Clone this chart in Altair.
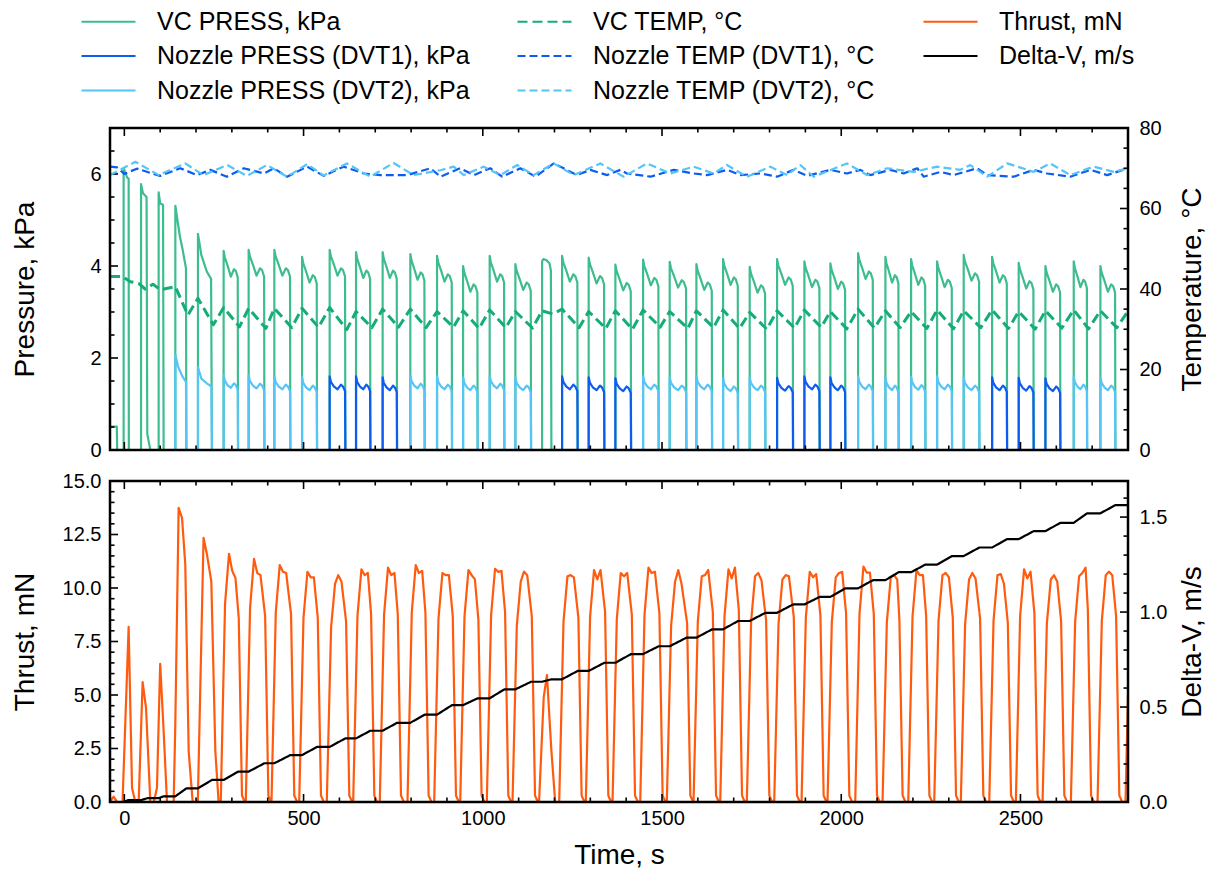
import altair as alt
import pandas as pd

FONT = "Liberation Sans"
W, H1, H2 = 1018, 322, 321
X_DOMAIN = [-40, 2800]

S_VC = "VC PRESS, kPa"
S_N1 = "Nozzle PRESS (DVT1), kPa"
S_N2 = "Nozzle PRESS (DVT2), kPa"
S_VCT = "VC TEMP, °C"
S_NT1 = "Nozzle TEMP (DVT1), °C"
S_NT2 = "Nozzle TEMP (DVT2), °C"
S_TH = "Thrust, mN"
S_DV = "Delta-V, m/s"

legend_order = [S_VC, S_N1, S_N2, S_VCT, S_NT1, S_NT2, S_TH, S_DV]
legend_colors = ["#3dbd8d", "#0c5cf0", "#55c4f7", "#14ad78", "#0c5cf0", "#55c4f7", "#ff5a0d", "#000000"]
legend_dash = [[1, 0], [1, 0], [1, 0], [10, 5], [8, 4], [8, 4], [1, 0], [1, 0]]

# ---------------- pulse table ----------------
pulse_t0 = [-2, 46.6, 95.7, 142.3, 205.4, 277.0, 346.8, 418.5, 495.8, 572.8,
            646.4, 720.6, 797.9, 872.4, 945.0, 1019.2, 1090.9, 1165.4, 1221.2, 1295.4,
            1369.9, 1447.2, 1521.4, 1595.9, 1670.4, 1744.6, 1821.0, 1897.2, 1969.7, 2047.0,
            2123.2, 2194.9, 2267.4, 2341.6, 2420.9, 2495.1, 2569.6, 2648.6, 2723.0, 2801.0]
pulse_dur = [13, 18, 14, 31, 39, 40.2, 44, 44.6, 41.8, 43.8,
             40, 40.2, 40, 41.8, 40.7, 41, 43.8, 26, 43.5, 43.8,
             43.8, 43.5, 46.6, 43.8, 41.8, 43.8, 44.6, 42.7, 41.8, 41.8,
             37, 40, 41.8, 43.8, 41.8, 41.8, 41.8, 37.4, 41.8, 42]
vc_peak = [6.13, 5.78, 5.6, 5.31, 4.7, 4.33, 4.35, 4.35, 4.2, 4.35,
           4.3, 4.3, 4.26, 4.22, 4.0, 4.22, 4.04, 4.15, 4.22, 4.18,
           4.03, 4.14, 4.09, 4.04, 4.15, 3.98, 4.15, 4.1, 4.06, 4.28,
           4.2, 4.15, 4.1, 4.24, 4.2, 4.07, 4.0, 4.1, 4.0, 4.1]
nozzle_unit = [0, 0, 0, 2, 2, 2, 2, 2, 2, 1,
               1, 1, 2, 2, 2, 2, 2, 0, 1, 1,
               1, 2, 2, 2, 2, 2, 1, 1, 1, 2,
               2, 2, 2, 2, 1, 1, 1, 2, 2, 2]
nozzle_peak = [0, 0, 0, 2.07, 1.80, 1.63, 1.62, 1.60, 1.58, 1.60,
               1.60, 1.58, 1.62, 1.60, 1.58, 1.62, 1.58, 0, 1.60, 1.58,
               1.56, 1.60, 1.58, 1.60, 1.56, 1.58, 1.57, 1.60, 1.58, 1.60,
               1.58, 1.59, 1.60, 1.58, 1.58, 1.57, 1.56, 1.60, 1.58, 1.58]
dv_after = [0.01, 0.02, 0.03, 0.072, 0.116, 0.16, 0.204, 0.247, 0.29, 0.335,
            0.375, 0.417, 0.46, 0.51, 0.546, 0.593, 0.633, 0.646, 0.69, 0.733,
            0.779, 0.82, 0.865, 0.909, 0.953, 0.996, 1.04, 1.08, 1.125, 1.168,
            1.21, 1.25, 1.295, 1.34, 1.384, 1.426, 1.47, 1.52, 1.563, 1.565]
# VC temperature: value at pulse start / after pulse end, pulses 4..40
vct_max = [40.6, 37.7, 35.4, 35.2, 35.2, 35.2, 35.4, 34.4, 35.0, 35.0,
           34.4, 34.6, 34.8, 34.4, 34.6, 35.0, 34.4, 34.6, 34.8, 34.4,
           34.6, 34.8, 34.2, 34.6, 34.8, 34.4, 35.0, 34.6, 34.4, 34.8,
           34.6, 34.8, 34.4, 34.6, 34.8, 34.6, 34.6]
vct_min = [33.5, 31.1, 30.6, 30.2, 30.4, 30.5, 29.9, 30.4, 30.5, 30.4,
           30.5, 30.2, 30.4, 30.3, 33.8, 30.4, 30.2, 30.0, 30.5, 30.2,
           30.4, 30.2, 30.0, 30.3, 30.5, 30.1, 30.3, 30.4, 30.2, 30.1,
           30.4, 30.2, 30.0, 30.3, 30.1, 30.4, 30.3]
vct_early_t = [-40, -5, 17, 40, 58, 80, 100]
vct_early_v = [43.1, 43.1, 41.8, 41.4, 40.0, 41.2, 39.8]

# thrust plateau readings (first, middle, last sample) for pulses 6..40
thrust_a = [11.6, 11.36, 11.07, 10.76, 10.2, 10.87, 10.95, 11.07, 10.7, 10.84, 10.9, 10.3, 0,
            10.55, 10.84, 10.7, 10.95, 10.3, 10.55, 10.87, 10.55, 10.4, 10.76, 10.5, 11.0,
            10.5, 10.84, 10.6, 10.4, 10.6, 10.87, 10.4, 10.55, 10.6, 10.6]
thrust_b = [10.8, 10.7, 10.76, 10.5, 10.6, 10.6, 10.6, 10.7, 10.6, 10.6, 10.75, 10.77, 0,
            10.6, 10.4, 10.55, 10.7, 10.84, 10.6, 10.45, 10.7, 10.6, 10.5, 10.7, 10.72,
            10.6, 10.6, 10.7, 10.7, 10.65, 10.45, 10.6, 10.7, 10.76, 10.6]
thrust_c = [10.47, 10.6, 10.7, 10.5, 10.3, 10.7, 10.7, 10.8, 10.6, 10.4, 10.8, 10.6, 0,
            10.5, 10.84, 10.7, 10.76, 10.2, 10.84, 10.95, 10.35, 10.55, 10.65, 10.75, 10.72,
            10.4, 10.6, 10.5, 10.45, 10.2, 10.76, 10.3, 10.95, 10.6, 10.6]

# explicit early traces
vc_early_t = [-40, -21, -20, -2, -2, 8, 12, 12.5, 46.6, 46.6, 52, 62, 64, 72.5,
              95.7, 95.7, 100, 108, 109.6, 142.3, 142.3, 155, 162, 172, 173,
              205.4, 205.4, 214.7, 230, 242, 244.4]
vc_early_v = [0.51, 0.51, 0, 0, 6.13, 5.92, 5.9, 0, 0, 5.78, 5.58, 5.5, 0.35, 0,
              0, 5.6, 5.36, 5.33, 0, 0, 5.31, 4.64, 4.38, 3.95, 0,
              0, 4.7, 4.24, 3.88, 3.72, 0]
vc_p18_t = [1165.4, 1165.4, 1169, 1177, 1186, 1190, 1191.4]
vc_p18_v = [0, 4.1, 4.15, 4.13, 4.06, 3.9, 0]
nz_early_t = [142.3, 142.3, 150, 162, 172, 173, 205.4, 205.4, 215, 230, 243, 244.4]
nz_early_v = [0, 2.07, 1.81, 1.6, 1.48, 0, 0, 1.80, 1.55, 1.45, 1.38, 0]
thrust_early_t = [-40, -30, -20, -5, 12, 21.5, 30.7, 40, 51, 60.5, 72.5, 82, 91, 100, 109.7,
                  119, 137.6, 142, 151.5, 161, 170, 179.5, 190.6, 205, 221, 230.6, 242.7, 253.9, 263]
thrust_early_v = [0, 0.25, 0, 0, 8.18, 0.65, 0, 0, 5.6, 4.4, 0, 0, 0.65, 6.46, 3.3,
                  0, 0, 3.46, 13.74, 13.27, 11.1, 2.37, 0, 0, 12.34, 11.56, 10.3, 2.37, 0]
thrust_p18_t = [1157, 1170, 1179, 1191, 1202]
thrust_p18_v = [0, 4.9, 5.93, 2.5, 0]

# typical pulse shape read from the regular pulses
shape_frac = [0, 0.08, 0.27, 0.5, 0.72, 0.85, 0.98]
vc_shape = [0, -0.14, -0.32, -0.56, -0.40, -0.44, -0.58]
nz_shape = [0, -0.12, -0.22, -0.28, -0.18, -0.22, -0.32]

# nozzle temperatures (zig-zag vertices)
nt1_t = [-40, -20, 0, 35, 100, 156, 203, 240, 286, 333, 389, 417, 454, 510, 556, 612, 668, 714, 789, 854,
         882, 937, 975, 1021, 1054, 1105, 1147, 1198, 1263, 1300, 1347, 1384, 1402, 1468, 1533, 1588, 1626,
         1682, 1719, 1775, 1821, 1867, 1905, 1970, 2016, 2053, 2081, 2137, 2174, 2212, 2230, 2277, 2314,
         2379, 2407, 2481, 2537, 2574, 2639, 2695, 2742, 2800]
nt1_v = [70.4, 70.2, 68.6, 69.9, 68.1, 70.0, 68.3, 69.6, 67.9, 70.0, 68.7, 70.0, 67.9, 70.4, 68.1, 70.4,
         68.7, 68.3, 68.3, 70.0, 67.9, 70.0, 68.3, 70.0, 67.9, 70.0, 67.9, 71.2, 68.3, 69.6, 68.3, 69.6,
         68.7, 67.9, 69.6, 68.7, 68.3, 69.6, 68.3, 68.7, 67.9, 69.6, 68.1, 69.6, 68.7, 69.6, 68.3, 69.6,
         68.7, 70.0, 67.9, 69.1, 68.3, 70.0, 68.3, 67.9, 69.6, 68.7, 67.9, 69.6, 68.3, 70.0]
nt2_t = [-40, 31, 96, 170, 221, 287, 342, 398, 454, 510, 556, 621, 686, 751, 807, 882, 919, 947, 1002,
         1049, 1096, 1142, 1198, 1254, 1328, 1393, 1458, 1523, 1588, 1644, 1681, 1737, 1802, 1849, 1886,
         1923, 2016, 2072, 2128, 2202, 2267, 2332, 2360, 2407, 2463, 2537, 2583, 2639, 2704, 2760, 2800]
nt2_v = [68.3, 71.6, 68.3, 71.2, 68.3, 70.8, 68.1, 70.8, 67.9, 71.0, 68.2, 71.2, 67.9, 71.3, 68.3, 69.5,
         70.4, 68.3, 70.4, 68.3, 70.8, 68.3, 71.2, 68.3, 71.2, 67.9, 71.2, 68.7, 70.4, 68.7, 70.8, 67.9,
         70.4, 68.3, 70.8, 67.9, 71.2, 68.3, 70.0, 69.1, 70.4, 69.6, 70.8, 67.9, 71.2, 69.1, 71.2, 68.3,
         70.4, 69.1, 70.0]

# axis tick positions
x_major = [0, 500, 1000, 1500, 2000, 2500]
x_minor = [v for v in range(100, 2800, 100) if v % 500 != 0]
p_major = [0, 2, 4, 6]
p_minor = [0.5, 1, 1.5, 2.5, 3, 3.5, 4.5, 5, 5.5, 6.5]
tmp_major = [0, 20, 40, 60, 80]
tmp_minor = [5, 10, 15, 25, 30, 35, 45, 50, 55, 65, 70, 75]
th_major = [0, 2.5, 5, 7.5, 10, 12.5, 15]
th_minor = [0.5, 1, 1.5, 2, 3, 3.5, 4, 4.5, 5.5, 6, 6.5, 7, 8, 8.5, 9, 9.5,
            10.5, 11, 11.5, 12, 13, 13.5, 14, 14.5]
dv_major = [0, 0.5, 1.0, 1.5]
dv_minor = [0.1, 0.2, 0.3, 0.4, 0.6, 0.7, 0.8, 0.9, 1.1, 1.2, 1.3, 1.4, 1.6]

# ---------------- build traces ----------------
n = len(pulse_t0)
vc_t, vc_v = list(vc_early_t), list(vc_early_v)
noz = {1: ([-40], [0]), 2: ([-40] + nz_early_t, [0] + nz_early_v)}
th_t, th_v = list(thrust_early_t), list(thrust_early_v)
for k in range(5, n):
    t0, d = pulse_t0[k], pulse_dur[k]
    if k == 17:
        vc_t += vc_p18_t
        vc_v += vc_p18_v
        th_t += thrust_p18_t
        th_v += thrust_p18_v
        continue
    vc_t.append(t0); vc_v.append(0)
    for f, o in zip(shape_frac, vc_shape):
        vc_t.append(t0 + f * d); vc_v.append(vc_peak[k] + o)
    vc_t.append(t0 + d); vc_v.append(0)
    u = nozzle_unit[k]
    if u:
        tt, vv = noz[u]
        tt.append(t0); vv.append(0)
        for f, o in zip(shape_frac, nz_shape):
            tt.append(t0 + f * d); vv.append(nozzle_peak[k] + o)
        tt.append(t0 + d); vv.append(0)
    a, b, c = thrust_a[k - 5], thrust_b[k - 5], thrust_c[k - 5]
    end0 = t0 + d + 19
    if k + 1 < n:
        end0 = min(end0, pulse_t0[k + 1] - 9)
    th_t += [t0 - 8, t0 + 4, t0 + 15, t0 + 24, t0 + 33, t0 + d + 2, t0 + d + 11, end0]
    th_v += [0, 0.8 * a, a, b, c, 0.82 * c, 0.3, 0]
vc_t.append(2810); vc_v.append(0)
for u in (1, 2):
    noz[u][0].append(2810); noz[u][1].append(0)

dv_t, dv_v = [-40], [0.0]
prev = 0.0
for k in range(n):
    dv_t += [pulse_t0[k], pulse_t0[k] + pulse_dur[k]]
    dv_v += [prev, dv_after[k]]
    prev = dv_after[k]
dv_t.append(2810); dv_v.append(prev)

vct_t, vct_v = list(vct_early_t), list(vct_early_v)
for j, k in enumerate(range(3, n)):
    vct_t += [pulse_t0[k], pulse_t0[k] + pulse_dur[k] + 4]
    vct_v += [vct_max[j], vct_min[j]]


def frame(ts, vs, name):
    return pd.DataFrame({"t": ts, "v": vs, "series": name, "i": list(range(len(ts)))})


df_vc = frame(vc_t, vc_v, S_VC)
df_noz = pd.concat([frame(noz[1][0], noz[1][1], S_N1), frame(noz[2][0], noz[2][1], S_N2)])
df_vct = frame(vct_t, vct_v, S_VCT)
df_nzt = pd.concat([frame(nt1_t, nt1_v, S_NT1), frame(nt2_t, nt2_v, S_NT2)])
df_th = frame(th_t, th_v, S_TH)
df_dv = frame(dv_t, dv_v, S_DV)

# ---------------- encodings ----------------
LEG = alt.Legend(title=None, orient="none", legendX=-15, legendY=-120, columns=3,
                 symbolType="M-2.25,0H2.25", symbolSize=576, symbolStrokeWidth=2.2,
                 labelFont=FONT, labelFontSize=25, labelColor="black", labelLimit=600,
                 labelOffset=35, rowPadding=7.5, columnPadding=43)


def col():
    return alt.Color("series:N", scale=alt.Scale(domain=legend_order, range=legend_colors), legend=LEG)


def dash():
    return alt.StrokeDash("series:N", scale=alt.Scale(domain=legend_order, range=legend_dash), legend=LEG)


XS = alt.Scale(domain=X_DOMAIN, nice=False, zero=False)
X_AX_BOTTOM = alt.Axis(values=x_major, format="d", title="Time, s", labelPadding=6, titlePadding=13)


def xenc(axis):
    return alt.X("t:Q", scale=XS, axis=axis)


def yaxis(values, title, orient, fmt, titlex, pad):
    return alt.Axis(values=values, title=title, orient=orient, format=fmt, labelPadding=pad,
                    titleX=titlex, titleBaseline="middle", titleAngle=270)


def line(df, xax, ys, yax, width):
    return alt.Chart(df).mark_line(clip=True, strokeWidth=width, strokeJoin="round").encode(
        x=xenc(xax), y=alt.Y("v:Q", scale=ys, axis=yax), color=col(), strokeDash=dash(),
        order=alt.Order("i:Q"))


def xticks(values, length, H, xax):
    df = pd.DataFrame({"t": values})
    top = alt.Chart(df).mark_rule(color="black", strokeWidth=1.6).encode(
        x=xenc(xax), y=alt.value(0), y2=alt.value(length))
    bot = alt.Chart(df).mark_rule(color="black", strokeWidth=1.6).encode(
        x=xenc(xax), y=alt.value(H), y2=alt.value(H - length))
    return [top, bot]


def yticks(values, length, ys, yax, side):
    df = pd.DataFrame({"v": values})
    x0 = 0 if side == "left" else W
    x1 = length if side == "left" else W - length
    return alt.Chart(df).mark_rule(color="black", strokeWidth=1.6).encode(
        y=alt.Y("v:Q", scale=ys, axis=yax), x=alt.value(x0), x2=alt.value(x1))


def box(H):
    return alt.Chart(pd.DataFrame({"a": [0]})).mark_rect(
        fillOpacity=0, stroke="black", strokeWidth=2.5).encode(
        x=alt.value(0), x2=alt.value(W), y=alt.value(0), y2=alt.value(H))


MAJ, MIN = 8, 4.5

# ---------------- top panel ----------------
ys_p = alt.Scale(domain=[0, 7], nice=False, zero=False)
ys_t = alt.Scale(domain=[0, 80], nice=False, zero=False)
ax_p = yaxis(p_major, "Pressure, kPa", "left", "d", -85, 9)
ax_t = yaxis(tmp_major, "Temperature, °C", "right", "d", 64, 11)

top_left = alt.layer(
    line(df_vc, None, ys_p, ax_p, 2.2),
    line(df_noz, None, ys_p, ax_p, 2.2),
    *xticks(x_major, MAJ, H1, None), *xticks(x_minor, MIN, H1, None),
    yticks(p_major, MAJ, ys_p, ax_p, "left"), yticks(p_minor, MIN, ys_p, ax_p, "left"),
)
top_right = alt.layer(
    line(df_vct, None, ys_t, ax_t, 3),
    line(df_nzt, None, ys_t, ax_t, 2.2),
    yticks(tmp_major, MAJ, ys_t, ax_t, "right"), yticks(tmp_minor, MIN, ys_t, ax_t, "right"),
    box(H1),
)
top = alt.layer(top_left, top_right).resolve_scale(y="independent").properties(width=W, height=H1)

# ---------------- bottom panel ----------------
ys_th = alt.Scale(domain=[0, 15], nice=False, zero=False)
ys_dv = alt.Scale(domain=[0, 1.69], nice=False, zero=False)
ax_th = yaxis(th_major, "Thrust, mN", "left", ".1f", -85, 9)
ax_dv = yaxis(dv_major, "Delta-V, m/s", "right", ".1f", 64, 11)

bot_left = alt.layer(
    line(df_th, X_AX_BOTTOM, ys_th, ax_th, 2.2),
    *xticks(x_major, MAJ, H2, X_AX_BOTTOM), *xticks(x_minor, MIN, H2, X_AX_BOTTOM),
    yticks(th_major, MAJ, ys_th, ax_th, "left"), yticks(th_minor, MIN, ys_th, ax_th, "left"),
)
bot_right = alt.layer(
    line(df_dv, X_AX_BOTTOM, ys_dv, ax_dv, 2.2),
    yticks(dv_major, MAJ, ys_dv, ax_dv, "right"), yticks(dv_minor, MIN, ys_dv, ax_dv, "right"),
    box(H2),
)
bottom = alt.layer(bot_left, bot_right).resolve_scale(y="independent").properties(width=W, height=H2)

chart = alt.vconcat(top, bottom, spacing=31, bounds="flush").properties(
    padding={"left": 3, "right": 0, "top": 0, "bottom": 0}
).configure(font=FONT).configure_view(stroke=None).configure_axis(
    labelFont=FONT, titleFont=FONT, labelFontSize=20, titleFontSize=28, titleFontWeight="normal",
    labelColor="black", titleColor="black", ticks=False, domain=False, grid=False
)

chart.save("out.html", embed_options={"renderer": "svg", "actions": False})
